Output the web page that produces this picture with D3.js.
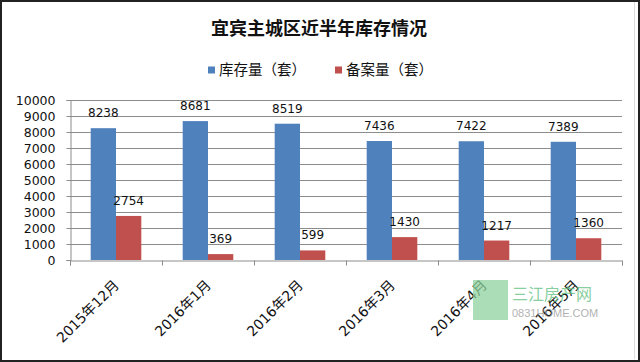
<!DOCTYPE html>
<html>
<head>
<meta charset='utf-8'>
<title>宜宾主城区近半年库存情况</title>
<style type='text/css'>
body{
  margin:0;
  background:#fff;
}
svg text{
  font-family: 'DejaVu Sans', 'Noto Sans CJK SC', sans-serif;
}
</style>
</head>
<body>
<div id='chart'></div>
<script src='https://d3js.org/d3.v7.min.js'></script>
<script type='text/javascript'>

// data
var months = ['2015年12月', '2016年1月', '2016年2月', '2016年3月', '2016年4月', '2016年5月'];
var seriesNames = ['库存量（套）', '备案量（套）'];
var stock = [8238, 8681, 8519, 7436, 7422, 7389];
var filed = [2754, 369, 599, 1430, 1217, 1360];
var yTicks = [0, 1000, 2000, 3000, 4000, 5000, 6000, 7000, 8000, 9000, 10000];
var colors = ['#4F81BD', '#C0504D'];

var W = 640, H = 362;
// plot box (note: "top" is reserved on window, so use pl/pr/pt/pb)
var pl = 70, pr = 622, pt = 100, pb = 260;

var svg = d3.select('#chart').append('svg')
    .attr('width', W)
    .attr('height', H);

// frame
svg.append('rect')
    .attr('x', 1).attr('y', 1)
    .attr('width', W - 2).attr('height', H - 2)
    .style('fill', '#fff')
    .style('stroke', '#222')
    .style('stroke-width', 2);
svg.append('line')
    .attr('x1', 634.5).attr('x2', 634.5)
    .attr('y1', 2).attr('y2', H - 3)
    .style('stroke', '#ddd');

var x0 = d3.scaleBand()
    .domain(months)
    .range([pl, pr])
    .paddingInner(0.45)
    .paddingOuter(0.225);

var x1 = d3.scaleBand()
    .domain([0, 1])
    .range([0, x0.bandwidth()]);

var y = d3.scaleLinear()
    .domain([0, 10000])
    .range([pb, pt]);

// gridlines
svg.append('g')
    .selectAll('line')
    .data(yTicks.slice(1))
    .enter()
    .append('line')
      .attr('x1', pl).attr('x2', pr)
      .attr('y1', function (d) { return Math.round(y(d)) + 0.5; })
      .attr('y2', function (d) { return Math.round(y(d)) + 0.5; })
      .style('stroke', '#8c8c8c')
      .style('stroke-width', 1);

// y axis
var yAxis = svg.append('g')
    .attr('transform', 'translate(' + (pl + 0.5) + ',0)')
    .call(d3.axisLeft(y).tickValues(yTicks).tickSize(4).tickPadding(11).tickFormat(d3.format('d')));
yAxis.selectAll('path, line').style('stroke', '#8c8c8c');
yAxis.selectAll('text')
    .style('font-size', '12.5px')
    .style('fill', '#111');

// bars
var rows = months.map(function (m, i) { return { month: m, vals: [stock[i], filed[i]] }; });

var groups = svg.append('g')
    .selectAll('g')
    .data(rows)
    .enter()
    .append('g')
      .attr('transform', function (d) { return 'translate(' + x0(d.month) + ',0)'; });

groups.selectAll('rect')
    .data(function (d) { return d.vals; })
    .enter()
    .append('rect')
      .attr('x', function (d, i) { return x1(i); })
      .attr('y', function (d) { return y(d); })
      .attr('width', x1.bandwidth())
      .attr('height', function (d) { return y(0) - y(d); })
      .style('fill', function (d, i) { return colors[i]; });

groups.selectAll('text')
    .data(function (d) { return d.vals; })
    .enter()
    .append('text')
      .attr('x', function (d, i) { return x1(i) + x1.bandwidth() / 2; })
      .attr('y', function (d) { return y(d) - 11; })
      .style('text-anchor', 'middle')
      .style('font-size', '12px')
      .style('fill', '#111')
      .text(function (d) { return d; });

// x axis: ticks on category boundaries
var xb = d3.scaleLinear().domain([0, months.length]).range([pl, pr]);
var xAxis = svg.append('g')
    .attr('transform', 'translate(0,' + (pb + 0.5) + ')')
    .call(d3.axisBottom(xb).ticks(months.length).tickSize(5).tickFormat(''));
xAxis.selectAll('path, line').style('stroke', '#8c8c8c');

svg.append('g')
    .selectAll('text')
    .data(months)
    .enter()
    .append('text')
      .attr('transform', function (d) {
        return 'translate(' + (x0(d) + x0.bandwidth() / 2 + 4) + ',' + (pb + 26) + ') rotate(-45)';
      })
      .style('text-anchor', 'end')
      .style('font-size', '14px')
      .style('fill', '#111')
      .text(function (d) { return d; });

// title
svg.append('text')
    .attr('x', 319)
    .attr('y', 35)
    .style('text-anchor', 'middle')
    .style('font-family', "'Noto Sans CJK SC', sans-serif")
    .style('font-weight', 'bold')
    .style('font-size', '18px')
    .style('fill', '#111')
    .text('宜宾主城区近半年库存情况');

// legend
var legendX = [208, 335];
var legend = svg.append('g')
    .selectAll('g')
    .data(seriesNames)
    .enter()
    .append('g')
      .attr('transform', function (d, i) { return 'translate(' + legendX[i] + ',70)'; });
legend.append('rect')
    .attr('x', 0).attr('y', -3.5)
    .attr('width', 7).attr('height', 7)
    .style('fill', function (d, i) { return colors[i]; });
legend.append('text')
    .attr('x', 11)
    .attr('y', 5)
    .style('font-family', "'Noto Sans CJK SC', sans-serif")
    .style('font-size', '14.5px')
    .style('fill', '#111')
    .text(function (d) { return d; });

// watermark
var wm = svg.append('g').style('opacity', 0.75);
wm.append('rect')
    .attr('x', 473).attr('y', 280)
    .attr('width', 35).attr('height', 40)
    .style('fill', '#8fd19e');
wm.append('text')
    .attr('x', 512).attr('y', 300)
    .style('font-family', "'Noto Sans CJK SC', sans-serif")
    .style('font-size', '16px')
    .style('fill', '#5fbf7f')
    .text('三江房产网');
wm.append('text')
    .attr('x', 512).attr('y', 317)
    .style('font-family', "'Liberation Sans Narrow', 'Liberation Sans', sans-serif")
    .style('font-size', '11px')
    .style('fill', '#999')
    .text('0831HOME.COM');

</script>
</body>
</html>
